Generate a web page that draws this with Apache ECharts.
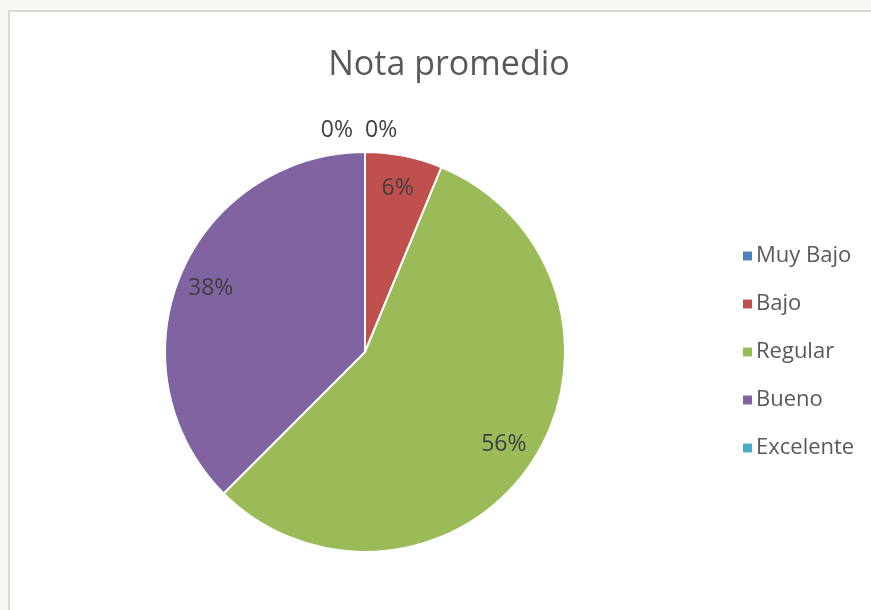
<!DOCTYPE html>
<html>
<head>
<meta charset="utf-8">
<script src="https://cdn.jsdelivr.net/npm/echarts@6/dist/echarts.min.js"></script>
<style>
  html, body { margin: 0; padding: 0; background: #faf8f2; }
  #chart { width: 871px; height: 610px; }
</style>
</head>
<body>
<div id="chart"></div>
<script>
// categorias y conteos (6%, 56%, 38% => 1, 9, 6 de 16)
const categorias = ["Muy Bajo", "Bajo", "Regular", "Bueno", "Excelente"];
const valores = [0, 1, 9, 6, 0];
const colores = ["#4f81bd", "#c0504d", "#9bbb59", "#8064a2", "#4bacc6"];

const fuente = "Open Sans";

const datos = categorias.map((nombre, i) => ({
  name: nombre,
  value: valores[i],
  itemStyle: { color: colores[i] },
}));

// solo etiquetas: anillo transparente para ubicar texto cerca del borde
const datosEtiquetas = categorias.map((nombre, i) => {
  const item = { name: nombre, value: valores[i] };
  if (valores[i] === 0) {
    item.label = {
      position: "outside",
      align: i === 0 ? "left" : "right",
      offset: i === 0 ? [-7, 0] : [-5, 0],
    };
  }
  return item;
});

const chart = echarts.init(document.getElementById("chart"));
chart.setOption({
  animation: false,
  color: colores,
  graphic: [
    {
      type: "rect",
      z: -10,
      shape: { x: 9, y: 11, width: 900, height: 700 },
      style: { fill: "#ffffff", stroke: "#d9d9d9", lineWidth: 2 },
      silent: true,
    },
  ],
  title: {
    text: "Nota promedio",
    left: 444,
    top: 38,
    textAlign: "center",
    textStyle: {
      fontFamily: fuente,
      fontSize: 34,
      fontWeight: "normal",
      color: "#595959",
      lineHeight: 44,
    },
  },
  legend: {
    orient: "vertical",
    left: 736,
    top: 239,
    icon: "rect",
    itemWidth: 11,
    itemHeight: 11,
    itemGap: 24,
    data: categorias,
    textStyle: {
      fontFamily: fuente,
      fontSize: 22,
      color: "#595959",
      lineHeight: 24,
      padding: [0, 0, 0, -2],
    },
  },
  series: [
    {
      type: "pie",
      center: [365, 352],
      radius: 200,
      startAngle: 90,
      clockwise: true,
      avoidLabelOverlap: false,
      label: { show: false },
      labelLine: { show: false },
      itemStyle: { borderColor: "#ffffff", borderWidth: 2 },
      emphasis: { disabled: true },
      data: datos,
    },
    {
      type: "pie",
      center: [365, 352],
      radius: [128, 200],
      startAngle: 90,
      clockwise: true,
      silent: true,
      avoidLabelOverlap: false,
      itemStyle: { color: "rgba(0,0,0,0)", borderWidth: 0 },
      label: {
        show: true,
        position: "inside",
        fontFamily: fuente,
        fontSize: 23,
        color: "#404040",
        formatter: (p) => Math.round(p.percent) + "%",
      },
      labelLine: { show: false, length: 22, length2: 0 },
      labelLayout: { hideOverlap: false },
      emphasis: { disabled: true },
      data: datosEtiquetas,
    },
  ],
});
</script>
</body>
</html>
